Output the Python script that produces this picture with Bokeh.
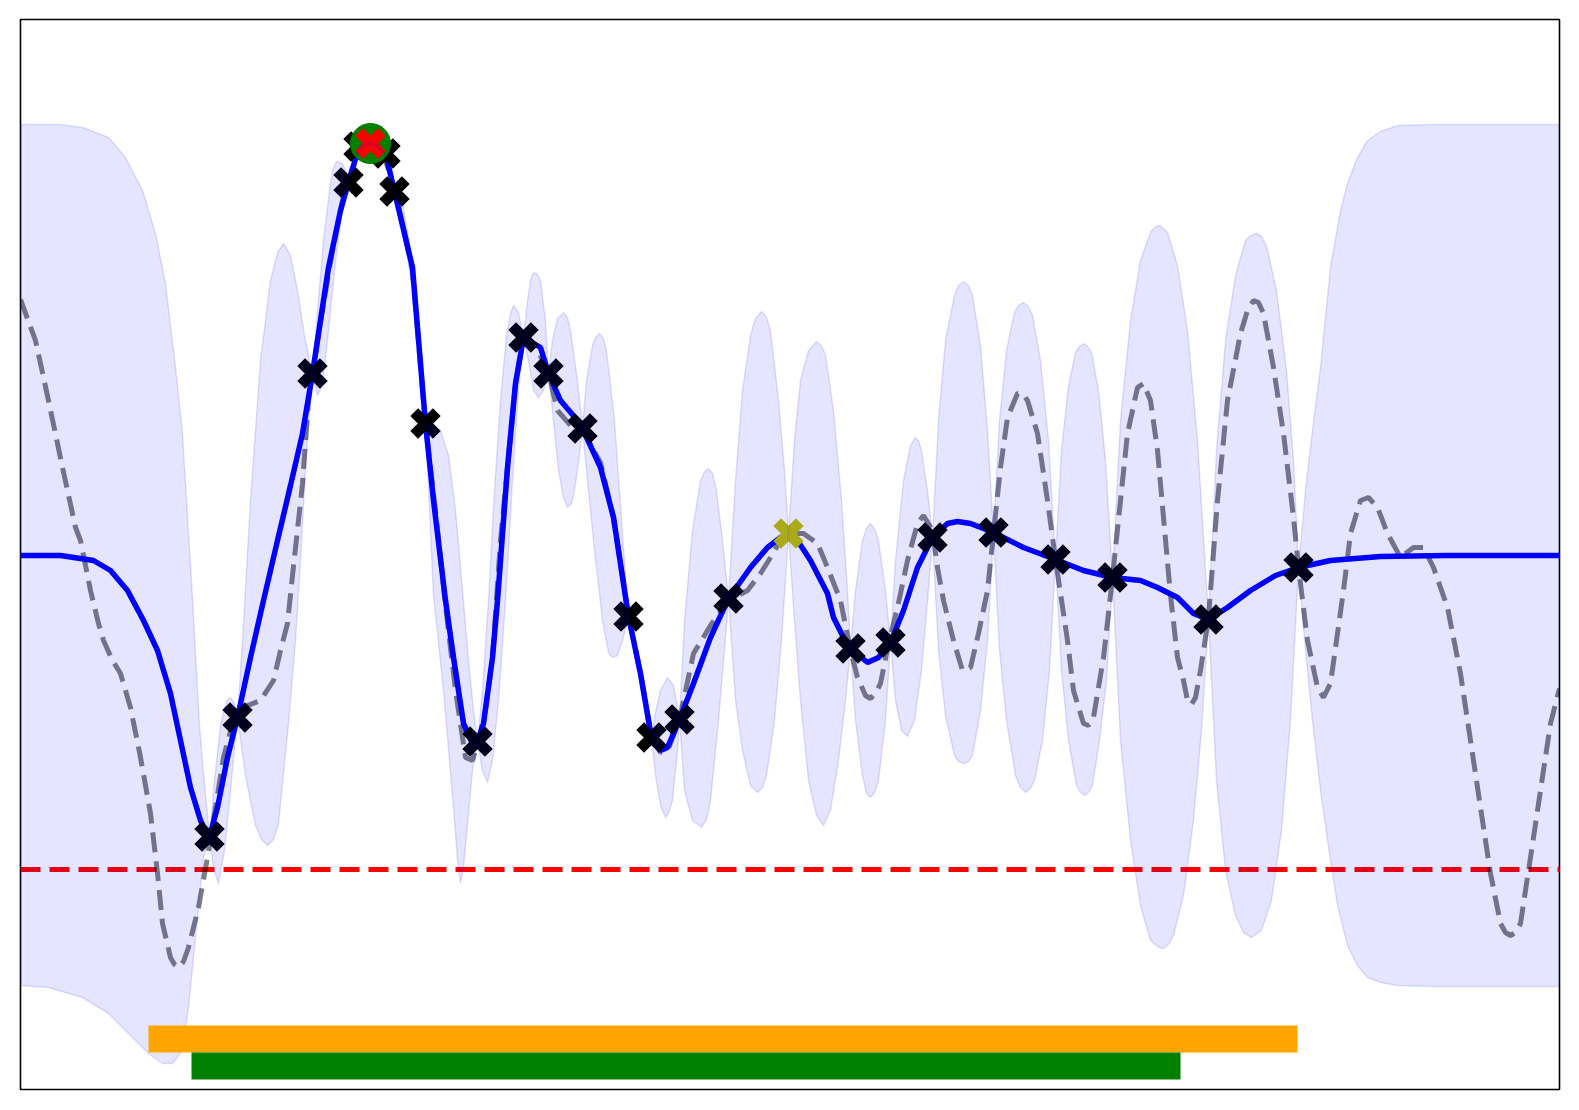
from bokeh.plotting import figure
from bokeh.models import Range1d, Span
from bokeh.embed import file_html
from bokeh.resources import INLINE

# ---------------- data ----------------
# observations (black crosses)
obs_x = [1.89, 2.17, 2.92, 3.28, 3.38, 3.65, 3.74, 4.05, 4.57, 5.03, 5.28, 5.62,
         6.08, 6.31, 6.59, 7.08, 8.30, 8.70, 9.12, 9.73, 10.35, 10.92, 11.88, 12.78]
obs_y = [-2.81, -1.62, 1.82, 3.73, 4.09, 4.02, 3.64, 1.32, -1.86, 2.18, 1.82, 1.27,
         -0.61, -1.82, -1.64, -0.43, -0.93, -0.87, 0.18, 0.23, -0.04, -0.22, -0.64, -0.12]

best_x = [3.50]      # red cross on green circle
best_y = [4.12]
next_x = [7.68]      # yellow cross
next_y = [0.22]

threshold_y = -3.14  # red dashed line

# GP mean (blue line): (x, y) pairs
mean_curve = [
    (0.00, 0.00), (0.40, 0.00), (0.73, -0.05), (0.90, -0.15), (1.07, -0.35), (1.23, -0.65),
    (1.37, -0.95), (1.50, -1.38), (1.60, -1.85), (1.70, -2.32), (1.80, -2.65), (1.85, -2.75),
    (1.89, -2.81), (1.97, -2.52), (2.07, -2.02), (2.17, -1.62), (2.30, -1.02), (2.43, -0.45),
    (2.57, 0.15), (2.70, 0.70), (2.82, 1.22), (2.92, 1.82), (3.08, 2.88), (3.20, 3.45),
    (3.28, 3.73), (3.38, 4.07), (3.44, 4.11), (3.50, 4.12), (3.57, 4.09), (3.65, 4.02),
    (3.74, 3.64), (3.92, 2.88), (4.05, 1.32), (4.13, 0.55), (4.25, -0.45), (4.33, -1.02),
    (4.43, -1.68), (4.52, -1.88), (4.57, -1.86), (4.63, -1.68), (4.72, -1.02), (4.77, -0.45),
    (4.87, 0.88), (4.95, 1.72), (5.03, 2.18), (5.20, 2.08), (5.28, 1.82), (5.40, 1.55),
    (5.57, 1.35), (5.62, 1.27), (5.80, 0.88), (5.93, 0.38), (6.08, -0.61), (6.20, -1.18),
    (6.31, -1.82), (6.40, -1.95), (6.47, -1.92), (6.59, -1.64), (6.73, -1.28), (6.90, -0.82),
    (7.08, -0.43), (7.30, -0.12), (7.47, 0.08), (7.60, 0.18), (7.68, 0.22), (7.77, 0.15),
    (7.90, -0.05), (8.07, -0.38), (8.13, -0.62), (8.23, -0.82), (8.30, -0.93), (8.47, -1.07),
    (8.58, -1.02), (8.70, -0.87), (8.83, -0.55), (8.97, -0.12), (9.12, 0.18), (9.27, 0.32),
    (9.37, 0.34), (9.50, 0.32), (9.73, 0.23), (10.03, 0.08), (10.35, -0.04), (10.63, -0.15),
    (10.92, -0.22), (11.20, -0.25), (11.37, -0.32), (11.57, -0.42), (11.73, -0.58), (11.88, -0.64),
    (12.07, -0.52), (12.30, -0.35), (12.55, -0.20), (12.78, -0.12), (13.10, -0.05), (13.60, -0.01),
    (14.27, 0.00), (15.39, 0.00),
]

# true objective (grey dashed line): (x, y) pairs
true_curve = [
    (0.00, 2.56), (0.15, 2.15), (0.28, 1.55), (0.42, 0.88), (0.55, 0.28), (0.60, 0.15),
    (0.70, -0.35), (0.78, -0.68), (0.83, -0.85), (0.92, -1.05), (1.00, -1.18), (1.10, -1.52),
    (1.20, -2.02), (1.30, -2.58), (1.37, -3.18), (1.42, -3.68), (1.50, -4.02), (1.54, -4.09),
    (1.58, -4.12), (1.63, -4.06), (1.68, -3.92), (1.78, -3.52), (1.87, -3.02), (1.95, -2.52),
    (2.03, -2.02), (2.12, -1.68), (2.22, -1.52), (2.40, -1.45), (2.53, -1.25), (2.60, -0.95),
    (2.67, -0.68), (2.72, -0.20), (2.82, 0.72), (2.88, 1.55), (2.98, 2.22), (3.12, 3.05),
    (3.22, 3.55), (3.32, 3.88), (3.45, 4.08), (3.55, 4.10), (3.65, 3.95), (3.75, 3.63),
    (3.92, 2.85), (4.05, 1.30), (4.15, 0.45), (4.25, -0.50), (4.35, -1.35), (4.45, -2.02),
    (4.52, -2.05), (4.58, -1.85), (4.65, -1.55), (4.72, -1.02), (4.80, 0.15), (4.87, 0.88),
    (4.95, 1.72), (5.03, 2.18), (5.15, 2.10), (5.28, 1.82), (5.37, 1.45), (5.50, 1.30),
    (5.62, 1.25), (5.80, 0.93), (5.93, 0.38), (6.08, -0.61), (6.20, -1.18), (6.31, -1.82),
    (6.40, -1.97), (6.48, -1.93), (6.59, -1.64), (6.73, -0.98), (6.90, -0.70), (7.08, -0.45),
    (7.27, -0.35), (7.40, -0.18), (7.50, -0.02), (7.60, 0.15), (7.68, 0.22), (7.83, 0.22),
    (7.97, 0.12), (8.07, -0.12), (8.20, -0.45), (8.30, -0.95), (8.37, -1.22), (8.45, -1.40),
    (8.50, -1.43), (8.55, -1.38), (8.60, -1.28), (8.68, -0.88), (8.77, -0.52), (8.87, -0.05),
    (8.97, 0.32), (9.03, 0.40), (9.12, 0.25), (9.17, -0.12), (9.23, -0.45), (9.33, -0.85),
    (9.42, -1.15), (9.50, -1.12), (9.58, -0.78), (9.67, -0.35), (9.73, 0.22), (9.80, 0.88),
    (9.87, 1.38), (9.97, 1.62), (10.02, 1.62), (10.07, 1.55), (10.17, 1.22), (10.27, 0.55),
    (10.35, -0.04), (10.47, -0.85), (10.53, -1.35), (10.63, -1.68), (10.68, -1.70), (10.73, -1.62),
    (10.83, -1.02), (10.92, -0.22), (11.00, 0.55), (11.07, 1.22), (11.17, 1.68), (11.23, 1.72),
    (11.30, 1.55), (11.37, 1.05), (11.43, 0.38), (11.50, -0.40), (11.57, -1.02), (11.63, -1.25),
    (11.67, -1.45), (11.71, -1.49), (11.75, -1.42), (11.80, -1.15), (11.88, -0.62), (11.97, 0.55),
    (12.07, 1.55), (12.20, 2.22), (12.27, 2.45), (12.33, 2.55), (12.38, 2.53), (12.43, 2.42),
    (12.53, 1.88), (12.63, 1.22), (12.73, 0.38), (12.78, -0.12), (12.87, -0.85), (12.97, -1.32),
    (13.03, -1.42), (13.10, -1.28), (13.17, -0.78), (13.23, -0.35), (13.30, 0.22), (13.40, 0.55),
    (13.48, 0.58), (13.57, 0.48), (13.67, 0.22), (13.80, -0.02), (13.93, 0.08), (14.03, 0.08),
    (14.13, -0.12), (14.27, -0.52), (14.40, -1.18), (14.50, -1.85), (14.60, -2.52), (14.70, -3.18),
    (14.80, -3.68), (14.85, -3.77), (14.90, -3.80), (14.95, -3.77), (15.00, -3.68), (15.10, -3.02),
    (15.20, -2.35), (15.30, -1.68), (15.39, -1.33),
]

# confidence band, upper edge: (x, y) pairs
band_upper = [
    (0.00, 4.31), (0.40, 4.31), (0.62, 4.28), (0.88, 4.18), (1.05, 3.98), (1.22, 3.65),
    (1.35, 3.22), (1.45, 2.72), (1.55, 1.88), (1.62, 1.22), (1.68, 0.22), (1.71, -0.25),
    (1.75, -0.98), (1.79, -1.70), (1.83, -2.18), (1.89, -2.81),
    (1.94, -2.25), (2.00, -1.70), (2.06, -1.45), (2.10, -1.42), (2.14, -1.48), (2.17, -1.62),
    (2.22, -0.85), (2.30, 0.55), (2.40, 1.95), (2.50, 2.75), (2.57, 3.03), (2.63, 3.12),
    (2.70, 3.00), (2.77, 2.65), (2.84, 2.20), (2.89, 1.95), (2.92, 1.82),
    (2.97, 2.45), (3.03, 3.15), (3.09, 3.65), (3.12, 3.85), (3.16, 3.94), (3.22, 3.92),
    (3.26, 3.83), (3.28, 3.73),
    (3.38, 4.09), (3.44, 4.13), (3.50, 4.13), (3.57, 4.10), (3.65, 4.02), (3.74, 3.64),
    (3.82, 3.52), (3.90, 3.07), (3.98, 2.30), (4.05, 1.32),
    (4.12, 1.30), (4.20, 1.25), (4.28, 1.00), (4.35, 0.45), (4.42, -0.35), (4.48, -1.05),
    (4.53, -1.55), (4.57, -1.86),
    (4.62, -1.35), (4.68, -0.45), (4.74, 0.65), (4.80, 1.55), (4.86, 2.20), (4.90, 2.42),
    (4.93, 2.50), (4.98, 2.43), (5.03, 2.18),
    (5.07, 2.55), (5.10, 2.75), (5.13, 2.83), (5.17, 2.81), (5.20, 2.75), (5.25, 2.35), (5.28, 1.82),
    (5.32, 2.15), (5.37, 2.37), (5.43, 2.43), (5.47, 2.38), (5.50, 2.25), (5.57, 1.75), (5.62, 1.27),
    (5.66, 1.75), (5.72, 2.10), (5.75, 2.18), (5.79, 2.22), (5.83, 2.17), (5.86, 2.05),
    (5.94, 1.35), (6.01, 0.35), (6.08, -0.61),
    (6.14, -0.83), (6.20, -1.07), (6.26, -1.45), (6.31, -1.82),
    (6.35, -1.57), (6.40, -1.35), (6.47, -1.22), (6.53, -1.30), (6.59, -1.64),
    (6.64, -0.65), (6.72, 0.25), (6.80, 0.75), (6.84, 0.84), (6.88, 0.87), (6.92, 0.82),
    (6.96, 0.65), (7.02, 0.15), (7.08, -0.43),
    (7.15, 0.75), (7.22, 1.65), (7.30, 2.20), (7.35, 2.37), (7.41, 2.44), (7.46, 2.38),
    (7.50, 2.25), (7.58, 1.55), (7.64, 0.85), (7.68, 0.22),
    (7.74, 1.15), (7.80, 1.75), (7.88, 2.05), (7.96, 2.14), (8.01, 2.10), (8.05, 2.00),
    (8.13, 1.45), (8.21, 0.55), (8.27, -0.35), (8.30, -0.93),
    (8.35, -0.35), (8.42, 0.15), (8.46, 0.27), (8.50, 0.32), (8.54, 0.27), (8.58, 0.15),
    (8.65, -0.35), (8.70, -0.87),
    (8.75, -0.05), (8.83, 0.75), (8.90, 1.10), (8.95, 1.18), (8.98, 1.15), (9.01, 1.05),
    (9.07, 0.65), (9.12, 0.18),
    (9.18, 1.35), (9.25, 2.15), (9.34, 2.60), (9.38, 2.70), (9.43, 2.74), (9.48, 2.70),
    (9.52, 2.60), (9.60, 2.10), (9.67, 1.25), (9.73, 0.23),
    (9.79, 1.35), (9.86, 2.05), (9.94, 2.43), (9.98, 2.50), (10.03, 2.53), (10.08, 2.49),
    (10.12, 2.40), (10.20, 1.95), (10.28, 1.15), (10.35, -0.04),
    (10.41, 1.05), (10.48, 1.70), (10.55, 2.03), (10.59, 2.09), (10.63, 2.12), (10.67, 2.09),
    (10.71, 2.03), (10.78, 1.65), (10.85, 0.95), (10.92, -0.22),
    (11.00, 1.35), (11.10, 2.35), (11.20, 2.95), (11.30, 3.23), (11.34, 3.28), (11.38, 3.30),
    (11.42, 3.28), (11.47, 3.23), (11.57, 2.90), (11.67, 2.25), (11.77, 1.15), (11.88, -0.64),
    (11.96, 1.05), (12.05, 2.15), (12.15, 2.80), (12.25, 3.15), (12.30, 3.20), (12.36, 3.22),
    (12.41, 3.19), (12.46, 3.10), (12.56, 2.65), (12.66, 1.85), (12.73, 0.95), (12.78, -0.12),
    (12.85, 0.65), (12.92, 1.25), (13.00, 1.88), (13.10, 2.88), (13.20, 3.45), (13.27, 3.72),
    (13.37, 3.98), (13.47, 4.15), (13.60, 4.24), (13.77, 4.30), (14.10, 4.31), (15.39, 4.31),
]

# confidence band, lower edge: (x, y) pairs
band_lower = [
    (0.00, -4.30), (0.28, -4.32), (0.62, -4.42), (0.88, -4.58), (1.08, -4.78), (1.28, -4.98),
    (1.42, -5.08), (1.52, -5.08), (1.62, -4.95), (1.68, -4.52), (1.73, -4.02), (1.78, -3.52),
    (1.83, -3.02), (1.89, -2.81),
    (1.93, -3.13), (1.98, -3.28), (2.04, -2.95), (2.10, -2.35), (2.17, -1.62),
    (2.25, -2.20), (2.35, -2.70), (2.41, -2.84), (2.47, -2.90), (2.53, -2.84), (2.58, -2.68),
    (2.68, -1.68), (2.75, -0.85), (2.80, -0.05), (2.86, 1.05), (2.92, 1.82),
    (2.97, 1.60), (3.02, 1.70), (3.08, 2.25), (3.14, 2.85), (3.21, 3.40), (3.28, 3.73),
    (3.38, 4.05), (3.44, 4.09), (3.50, 4.11), (3.57, 4.08), (3.65, 4.00), (3.74, 3.64),
    (3.82, 3.28), (3.90, 2.79), (3.98, 2.00), (4.05, 1.32),
    (4.13, -0.40), (4.23, -1.35), (4.33, -2.52), (4.37, -3.05), (4.40, -3.28), (4.43, -3.12),
    (4.47, -2.68), (4.52, -2.15), (4.57, -1.86),
    (4.62, -2.15), (4.67, -2.27), (4.72, -2.05), (4.78, -1.45), (4.85, -0.45), (4.92, 0.75),
    (4.98, 1.65), (5.03, 2.18),
    (5.08, 1.95), (5.13, 1.65), (5.18, 1.58), (5.23, 1.65), (5.28, 1.82),
    (5.32, 1.45), (5.38, 0.85), (5.43, 0.58), (5.47, 0.48), (5.51, 0.52), (5.54, 0.65),
    (5.59, 1.00), (5.62, 1.27),
    (5.66, 0.85), (5.74, 0.05), (5.82, -0.65), (5.88, -0.97), (5.92, -1.02), (5.97, -1.00),
    (6.02, -0.85), (6.08, -0.61),
    (6.14, -1.00), (6.20, -1.30), (6.26, -1.70), (6.31, -1.82),
    (6.35, -2.20), (6.40, -2.50), (6.45, -2.62), (6.48, -2.58), (6.52, -2.45), (6.57, -1.95),
    (6.59, -1.64),
    (6.64, -2.35), (6.72, -2.65), (6.81, -2.72), (6.86, -2.64), (6.90, -2.45), (6.98, -1.65),
    (7.04, -0.95), (7.08, -0.43),
    (7.15, -1.45), (7.22, -1.95), (7.30, -2.30), (7.37, -2.37), (7.42, -2.32), (7.46, -2.20),
    (7.54, -1.65), (7.61, -0.85), (7.68, 0.22),
    (7.74, -0.65), (7.80, -1.45), (7.88, -2.25), (7.96, -2.60), (8.03, -2.70), (8.10, -2.55),
    (8.18, -2.05), (8.25, -1.45), (8.30, -0.93),
    (8.35, -1.65), (8.42, -2.20), (8.46, -2.38), (8.50, -2.42), (8.54, -2.37), (8.58, -2.25),
    (8.65, -1.65), (8.70, -0.87),
    (8.75, -1.45), (8.81, -1.75), (8.87, -1.81), (8.94, -1.65), (9.01, -1.15), (9.07, -0.45),
    (9.12, 0.18),
    (9.18, -0.95), (9.25, -1.60), (9.34, -2.00), (9.38, -2.06), (9.43, -2.08), (9.48, -2.06),
    (9.52, -2.00), (9.60, -1.55), (9.67, -0.85), (9.73, 0.23),
    (9.79, -0.95), (9.86, -1.65), (9.95, -2.20), (10.00, -2.32), (10.05, -2.37), (10.10, -2.33),
    (10.14, -2.25), (10.22, -1.85), (10.29, -1.15), (10.35, -0.04),
    (10.41, -1.15), (10.48, -1.85), (10.56, -2.30), (10.60, -2.37), (10.64, -2.40), (10.68, -2.37),
    (10.72, -2.30), (10.79, -1.85), (10.86, -1.25), (10.92, -0.22),
    (11.00, -1.85), (11.10, -2.85), (11.20, -3.50), (11.30, -3.85), (11.37, -3.91), (11.43, -3.93),
    (11.48, -3.89), (11.53, -3.80), (11.63, -3.40), (11.73, -2.65), (11.81, -1.75), (11.88, -0.64),
    (11.96, -2.25), (12.05, -3.15), (12.15, -3.60), (12.23, -3.77), (12.31, -3.82), (12.41, -3.75),
    (12.51, -3.45), (12.61, -2.75), (12.70, -1.65), (12.78, -0.12),
    (12.85, -0.95), (12.92, -1.65), (13.00, -2.35), (13.07, -2.85), (13.17, -3.50), (13.27, -3.90),
    (13.37, -4.10), (13.47, -4.22), (13.60, -4.27), (13.77, -4.30), (14.10, -4.31), (15.39, -4.31),
]

# horizontal bars at the bottom (orange, green)
bar_left = [1.28, 1.71]
bar_right = [12.77, 11.60]
bar_top = [-4.70, -4.97]
bar_bottom = [-4.97, -5.24]
bar_color = ["orange", "green"]

mean_x = [a for a, b in mean_curve]
mean_y = [b for a, b in mean_curve]
true_x = [a for a, b in true_curve]
true_y = [b for a, b in true_curve]
band_x = [a for a, b in band_upper] + [a for a, b in band_lower][::-1]
band_y = [b for a, b in band_upper] + [b for a, b in band_lower][::-1]

# ---------------- figure ----------------
p = figure(frame_width=1539, frame_height=1070,
           x_range=Range1d(0, 15.39), y_range=Range1d(-5.34, 5.36),
           x_axis_location=None, y_axis_location=None,
           toolbar_location=None, output_backend="svg",
           min_border_left=20, min_border_top=19, min_border_right=12, min_border_bottom=12)
p.xgrid.visible = False
p.ygrid.visible = False
p.outline_line_color = "black"
p.outline_line_width = 1.6
p.outline_line_alpha = 1.0
p.background_fill_color = "white"
p.border_fill_color = "white"

thr = Span(location=threshold_y, dimension="width", line_color="red",
           line_width=5, line_dash="20 9", level="underlay")
p.add_layout(thr)

p.line(true_x, true_y, line_color="black", line_alpha=0.5, line_width=5, line_dash="20 9")
p.line(mean_x, mean_y, line_color="blue", line_width=5.5)

p.scatter(obs_x, obs_y, marker="x", size=32, line_width=11, line_color="black")
p.scatter(best_x, best_y, marker="circle", size=40, fill_color="green", line_color="green")
p.scatter(best_x, best_y, marker="x", size=32, line_width=11, line_color="red")
p.scatter(next_x, next_y, marker="x", size=32, line_width=11, line_color="#bfbf00")

p.patch(band_x, band_y, fill_color="blue", fill_alpha=0.1,
        line_color="blue", line_alpha=0.12, line_width=1.5)

p.quad(left=bar_left, right=bar_right, top=bar_top, bottom=bar_bottom,
       fill_color=bar_color, line_color=None)

open("out.html", "w").write(file_html(p, INLINE))
